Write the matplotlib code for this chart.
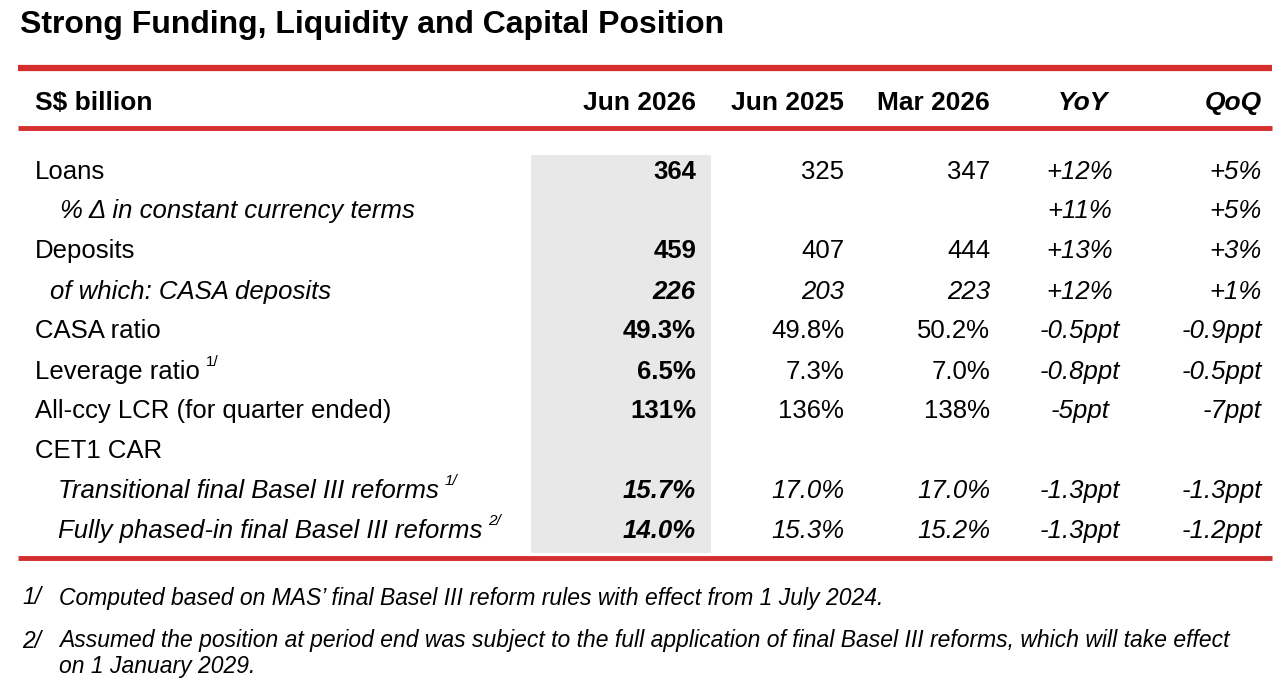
import matplotlib.pyplot as plt
from matplotlib.patches import Rectangle

plt.rcParams['font.family'] = ['Liberation Sans', 'DejaVu Sans']

title = 'Strong Funding, Liquidity and Capital Position'
headers = ['S$ billion', 'Jun 2026', 'Jun 2025', 'Mar 2026', 'YoY', 'QoQ']
labels = ['Loans', '% \u0394 in constant currency terms', 'Deposits',
          'of which: CASA deposits', 'CASA ratio', 'Leverage ratio',
          'All-ccy LCR (for quarter ended)', 'CET1 CAR',
          'Transitional final Basel III reforms',
          'Fully phased-in final Basel III reforms']
label_sup = ['', '', '', '', '', '1/', '', '', '1/', '2/']
jun26 = ['364', '', '459', '226', '49.3%', '6.5%', '131%', '', '15.7%', '14.0%']
jun25 = ['325', '', '407', '203', '49.8%', '7.3%', '136%', '', '17.0%', '15.3%']
mar26 = ['347', '', '444', '223', '50.2%', '7.0%', '138%', '', '17.0%', '15.2%']
yoy = ['+12%', '+11%', '+13%', '+12%', '-0.5ppt', '-0.8ppt', '-5ppt', '', '-1.3ppt', '-1.3ppt']
qoq = ['+5%', '+5%', '+3%', '+1%', '-0.9ppt', '-0.5ppt', '-7ppt', '', '-1.3ppt', '-1.2ppt']
italic_rows = [1, 3, 8, 9]
label_indent = [35, 60, 35, 50, 35, 35, 35, 35, 58, 58]
notes = [('1/', 'Computed based on MAS\u2019 final Basel III reform rules with effect from 1 July 2024.'),
         ('2/', 'Assumed the position at period end was subject to the full application of final Basel III reforms, which will take effect'),
         ('', 'on 1 January 2029.')]

W, H = 1284, 694
fig = plt.figure(figsize=(W / 100, H / 100), dpi=100)
ax = fig.add_axes([0, 0, 1, 1])
ax.set_xlim(0, W)
ax.set_ylim(H, 0)
ax.axis('off')

red = '#d42e2e'
ax.text(20, 25, title, fontsize=23, fontweight='bold', va='center')
for y, lw in [(68, 4.5), (128, 3.5), (558, 3.5)]:
    ax.plot([18, 1272], [y, y], color=red, lw=lw, solid_capstyle='butt')
ax.add_patch(Rectangle((531, 155), 180, 398, color='#e8e8e8', lw=0))

hx = [(35, 'left'), (696, 'right'), (844, 'right'), (990, 'right'), (1083, 'center'), (1262, 'right')]
for i, (h, (x, ha)) in enumerate(zip(headers, hx)):
    st = 'italic' if i >= 4 else 'normal'
    ax.text(x, 103, h, fontsize=19, fontweight='bold', ha=ha, va='center', style=st)

row_y = [172, 211, 251, 292, 331, 372, 411, 451, 491, 531]
for i, y in enumerate(row_y):
    it = 'italic' if i in italic_rows else 'normal'
    t = ax.text(label_indent[i], y, labels[i], fontsize=18.5, va='center', style=it)
    if label_sup[i]:
        fig.canvas.draw()
        bb = t.get_window_extent()
        ax.text(bb.x1 + 6, y - 10, label_sup[i], fontsize=11, va='center', style=it)
    ax.text(696, y, jun26[i], fontsize=18.5, fontweight='bold', ha='right', va='center', style=it)
    ax.text(844, y, jun25[i], fontsize=18.5, ha='right', va='center', style=it)
    ax.text(990, y, mar26[i], fontsize=18.5, ha='right', va='center', style=it)
    ax.text(1080, y, yoy[i], fontsize=18.5, ha='center', va='center', style='italic')
    ax.text(1262, y, qoq[i], fontsize=18.5, ha='right', va='center', style='italic')

for y, (k, n) in zip([598, 641, 667], notes):
    ax.text(22, y, k, fontsize=16.5, va='center', style='italic')
    ax.text(59, y, n, fontsize=16.5, va='center', style='italic')

fig.savefig('out.png', dpi=100)
